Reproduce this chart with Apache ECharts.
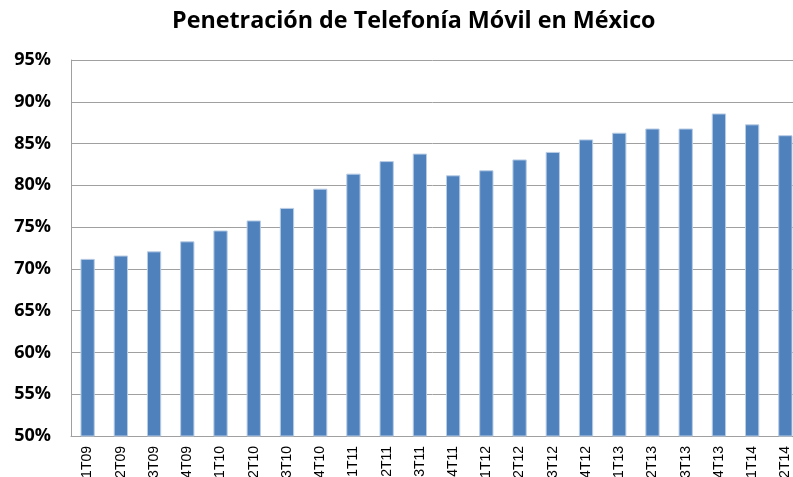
<!DOCTYPE html>
<html>
<head>
<meta charset="utf-8">
<script src="https://cdn.jsdelivr.net/npm/echarts@6/dist/echarts.min.js"></script>
<style>
  html, body { margin: 0; padding: 0; background: #fff; }
  #chart { width: 793px; height: 477px; }
</style>
</head>
<body>
<div id="chart"></div>
<script>
// trimestres
var quarters = ['1T09', '2T09', '3T09', '4T09', '1T10', '2T10', '3T10', '4T10',
    '1T11', '2T11', '3T11', '4T11', '1T12', '2T12', '3T12', '4T12',
    '1T13', '2T13', '3T13', '4T13', '1T14', '2T14'];
// penetracion en %
var penetration = [71.2, 71.6, 72.1, 73.3, 74.6, 75.8, 77.3, 79.6,
    81.4, 82.9, 83.8, 81.2, 81.8, 83.1, 84.0, 85.5,
    86.3, 86.8, 86.8, 88.6, 87.3, 86.0];

var myChart = echarts.init(document.getElementById('chart'));
var option = {
    backgroundColor: '#ffffff',
    animation: false,
    title: {
        text: 'Penetración de Telefonía Móvil en México',
        left: 167,
        top: 5,
        textStyle: {
            fontFamily: 'Open Sans',
            fontWeight: 'bold',
            fontSize: 23.3,
            color: '#000'
        }
    },
    grid: {
        left: 71,
        top: 60,
        right: -9,
        height: 376,
        outerBoundsMode: 'none'
    },
    xAxis: {
        type: 'category',
        data: quarters,
        axisLine: { lineStyle: { color: '#a0a0a0' } },
        axisTick: { show: false },
        axisLabel: {
            rotate: 90,
            interval: 0,
            margin: 10,
            fontFamily: 'Liberation Sans',
            fontSize: 14,
            color: '#000'
        }
    },
    yAxis: {
        type: 'value',
        min: 50,
        max: 95,
        interval: 5,
        axisLine: { show: true, lineStyle: { color: '#a0a0a0' } },
        axisTick: { show: false },
        splitLine: { lineStyle: { color: '#a0a0a0', width: 1 } },
        axisLabel: {
            formatter: '{value}%',
            margin: 20,
            fontFamily: 'Open Sans',
            fontWeight: 'bold',
            fontSize: 18,
            color: '#000'
        }
    },
    series: [
        {
            name: 'Penetración',
            type: 'bar',
            data: penetration,
            barWidth: '43%',
            itemStyle: {
                color: '#4f81bd',
                borderColor: '#b9cde5',
                borderWidth: 1
            }
        }
    ]
};
myChart.setOption(option);
</script>
</body>
</html>
